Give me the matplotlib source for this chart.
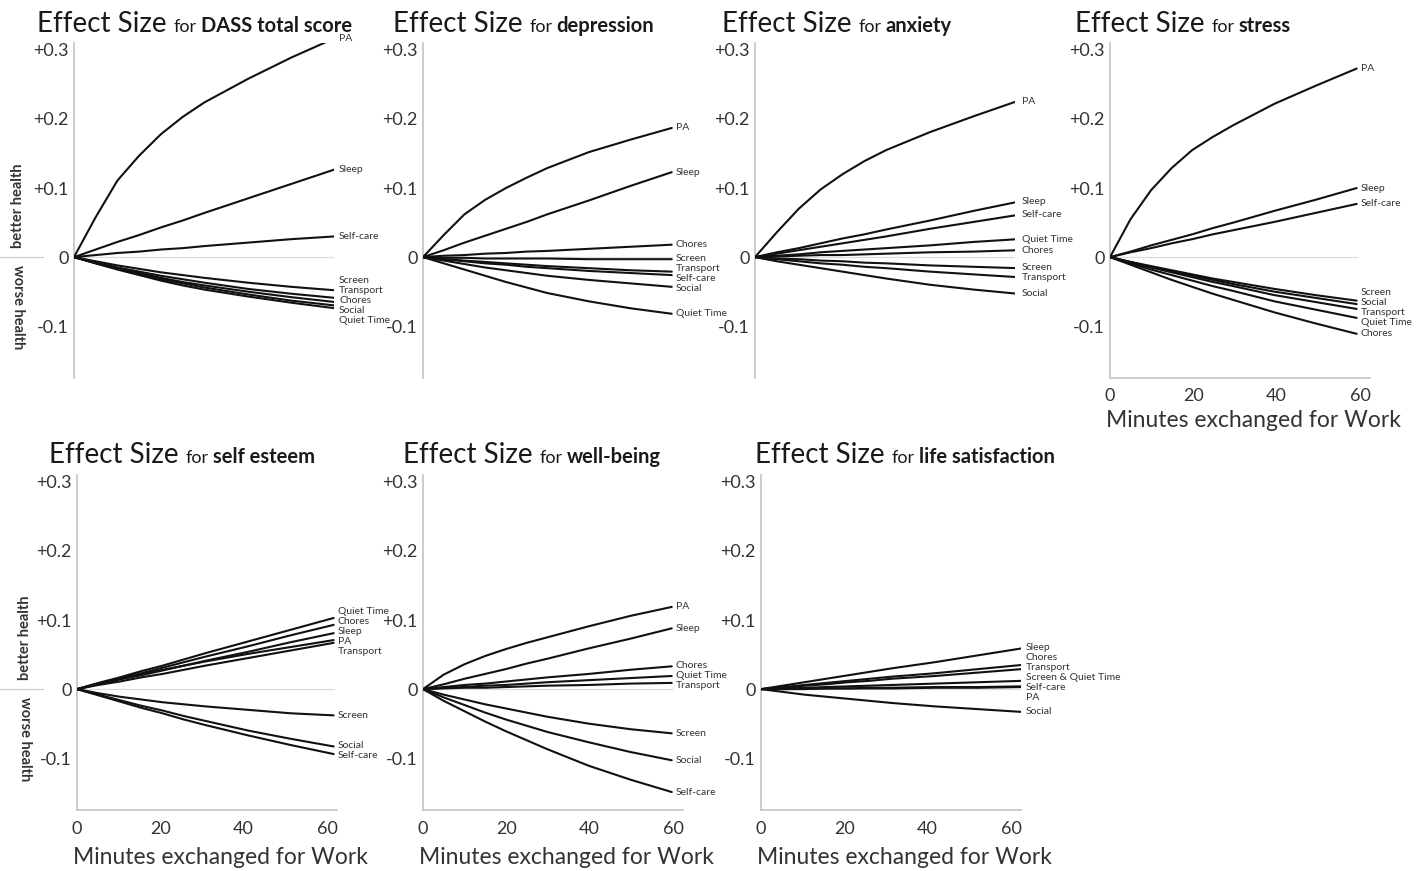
import numpy as np
import matplotlib.pyplot as plt

plt.rcParams['font.family'] = ['Lato', 'DejaVu Sans']

minutes = [0, 5, 10, 15, 20, 25, 30, 40, 50, 60]

titles = ["DASS total score", "depression", "anxiety", "stress",
          "self esteem", "well-being", "life satisfaction"]

# where each panel's lines stop, in minutes
line_end = [62.6, 59.7, 63.0, 59.2, 61.6, 59.7, 62.6]

dass_names = ["PA", "Sleep", "Self-care", "Screen", "Transport", "Chores", "Social", "Quiet Time"]
dass_vals = [
    [0, 0.058, 0.111, 0.147, 0.178, 0.203, 0.224, 0.258, 0.289, 0.317],
    [0, 0.011, 0.022, 0.032, 0.043, 0.053, 0.064, 0.085, 0.106, 0.127],
    [0, 0.003, 0.006, 0.008, 0.011, 0.013, 0.016, 0.021, 0.026, 0.030],
    [0, -0.006, -0.012, -0.017, -0.022, -0.026, -0.030, -0.037, -0.043, -0.048],
    [0, -0.008, -0.015, -0.021, -0.027, -0.032, -0.037, -0.046, -0.053, -0.059],
    [0, -0.008, -0.016, -0.023, -0.030, -0.036, -0.041, -0.050, -0.058, -0.065],
    [0, -0.009, -0.017, -0.025, -0.032, -0.038, -0.044, -0.054, -0.063, -0.070],
    [0, -0.009, -0.018, -0.026, -0.034, -0.041, -0.047, -0.057, -0.066, -0.074],
]

dep_names = ["PA", "Sleep", "Chores", "Screen", "Transport", "Self-care", "Social", "Quiet Time"]
dep_vals = [
    [0, 0.032, 0.062, 0.083, 0.100, 0.115, 0.129, 0.152, 0.170, 0.187],
    [0, 0.010, 0.021, 0.031, 0.041, 0.051, 0.062, 0.082, 0.103, 0.123],
    [0, 0.002, 0.003, 0.005, 0.006, 0.008, 0.009, 0.012, 0.015, 0.018],
    [0, -0.001, -0.001, -0.002, -0.002, -0.002, -0.002, -0.003, -0.003, -0.003],
    [0, -0.003, -0.005, -0.007, -0.009, -0.011, -0.013, -0.016, -0.019, -0.021],
    [0, -0.003, -0.006, -0.009, -0.011, -0.014, -0.016, -0.020, -0.023, -0.026],
    [0, -0.005, -0.010, -0.015, -0.019, -0.023, -0.027, -0.033, -0.038, -0.043],
    [0, -0.009, -0.018, -0.027, -0.036, -0.044, -0.052, -0.064, -0.074, -0.082],
]

anx_names = ["PA", "Sleep", "Self-care", "Quiet Time", "Chores", "Screen", "Transport", "Social"]
anx_vals = [
    [0, 0.036, 0.070, 0.098, 0.120, 0.139, 0.155, 0.181, 0.204, 0.226],
    [0, 0.007, 0.013, 0.020, 0.027, 0.033, 0.040, 0.053, 0.067, 0.080],
    [0, 0.005, 0.010, 0.015, 0.020, 0.025, 0.030, 0.041, 0.051, 0.061],
    [0, 0.002, 0.004, 0.007, 0.009, 0.011, 0.013, 0.017, 0.022, 0.026],
    [0, 0.001, 0.002, 0.003, 0.003, 0.004, 0.005, 0.007, 0.008, 0.010],
    [0, -0.002, -0.003, -0.005, -0.006, -0.008, -0.009, -0.012, -0.014, -0.016],
    [0, -0.003, -0.006, -0.009, -0.011, -0.014, -0.016, -0.021, -0.025, -0.029],
    [0, -0.006, -0.011, -0.016, -0.021, -0.026, -0.031, -0.040, -0.047, -0.053],
]

str_names = ["PA", "Sleep", "Self-care", "Screen", "Social", "Transport", "Quiet Time", "Chores"]
str_vals = [
    [0, 0.055, 0.097, 0.129, 0.155, 0.174, 0.191, 0.222, 0.248, 0.273],
    [0, 0.008, 0.017, 0.025, 0.033, 0.042, 0.050, 0.067, 0.083, 0.100],
    [0, 0.007, 0.013, 0.020, 0.026, 0.033, 0.039, 0.051, 0.064, 0.077],
    [0, -0.007, -0.013, -0.019, -0.025, -0.031, -0.036, -0.046, -0.055, -0.063],
    [0, -0.007, -0.014, -0.021, -0.027, -0.033, -0.039, -0.050, -0.059, -0.068],
    [0, -0.008, -0.015, -0.022, -0.029, -0.036, -0.042, -0.055, -0.065, -0.075],
    [0, -0.009, -0.018, -0.026, -0.034, -0.042, -0.049, -0.064, -0.076, -0.088],
    [0, -0.011, -0.022, -0.033, -0.043, -0.053, -0.062, -0.080, -0.096, -0.111],
]

est_names = ["Quiet Time", "Chores", "Sleep", "PA", "Transport", "Screen", "Social", "Self-care"]
est_vals = [
    [0, 0.009, 0.017, 0.026, 0.034, 0.043, 0.052, 0.069, 0.086, 0.103],
    [0, 0.008, 0.016, 0.023, 0.031, 0.039, 0.047, 0.062, 0.078, 0.093],
    [0, 0.007, 0.014, 0.020, 0.027, 0.034, 0.041, 0.054, 0.068, 0.081],
    [0, 0.008, 0.015, 0.022, 0.028, 0.034, 0.040, 0.051, 0.061, 0.071],
    [0, 0.006, 0.011, 0.017, 0.022, 0.028, 0.034, 0.045, 0.056, 0.067],
    [0, -0.006, -0.011, -0.015, -0.019, -0.022, -0.025, -0.030, -0.035, -0.038],
    [0, -0.008, -0.016, -0.024, -0.031, -0.039, -0.046, -0.060, -0.072, -0.083],
    [0, -0.009, -0.018, -0.027, -0.035, -0.044, -0.052, -0.067, -0.081, -0.094],
]

wb_names = ["PA", "Sleep", "Chores", "Quiet Time", "Transport", "Screen", "Social", "Self-care"]
wb_vals = [
    [0, 0.021, 0.036, 0.048, 0.058, 0.067, 0.075, 0.091, 0.106, 0.119],
    [0, 0.007, 0.015, 0.022, 0.029, 0.037, 0.044, 0.059, 0.073, 0.088],
    [0, 0.003, 0.006, 0.008, 0.011, 0.014, 0.017, 0.022, 0.028, 0.033],
    [0, 0.002, 0.003, 0.005, 0.006, 0.008, 0.010, 0.013, 0.016, 0.019],
    [0, 0.001, 0.002, 0.002, 0.003, 0.004, 0.005, 0.006, 0.008, 0.009],
    [0, -0.008, -0.015, -0.022, -0.028, -0.034, -0.040, -0.050, -0.058, -0.064],
    [0, -0.012, -0.023, -0.034, -0.044, -0.053, -0.062, -0.077, -0.091, -0.103],
    [0, -0.017, -0.032, -0.047, -0.061, -0.074, -0.087, -0.111, -0.131, -0.149],
]

ls_names = ["Sleep", "Chores", "Transport", "Screen & Quiet Time", "Self-care", "PA", "Social"]
ls_vals = [
    [0, 0.005, 0.010, 0.015, 0.020, 0.025, 0.030, 0.039, 0.049, 0.059],
    [0, 0.003, 0.006, 0.009, 0.012, 0.015, 0.018, 0.023, 0.029, 0.035],
    [0, 0.002, 0.005, 0.007, 0.010, 0.012, 0.015, 0.019, 0.024, 0.029],
    [0, 0.001, 0.002, 0.003, 0.004, 0.005, 0.006, 0.008, 0.010, 0.012],
    [0, 0.000, 0.001, 0.001, 0.001, 0.002, 0.002, 0.003, 0.003, 0.004],
    [0, 0.000, 0.000, 0.001, 0.001, 0.001, 0.001, 0.002, 0.002, 0.003],
    [0, -0.004, -0.008, -0.011, -0.014, -0.017, -0.020, -0.025, -0.029, -0.033],
]

panels = [(dass_names, dass_vals), (dep_names, dep_vals), (anx_names, anx_vals),
          (str_names, str_vals), (est_names, est_vals), (wb_names, wb_vals),
          (ls_names, ls_vals)]

yticks = [-0.1, 0, 0.1, 0.2, 0.3]
ytick_labels = ["-0.1", "0", "+0.1", "+0.2", "+0.3"]
xticks = [0, 20, 40, 60]

# layout, in pixels
W, H = 1423, 871
ax_left = [74, 423, 755, 1110, 77, 423, 761]
ax_bottom = [378, 378, 378, 378, 810, 810, 810, 810]
ax_w, ax_h = 260, 335
title_pos = [(37, 32), (393, 32), (722, 32), (1075, 32), (49, 463), (403, 463), (755, 463)]
has_xaxis = [False, False, False, True, True, True, True]
health_px = {0: 18, 4: 25}

INK = '#1a1a1a'
GREY = '#333333'


def spread(vals, gap):
    # push label positions apart so they don't overlap
    order = np.argsort(vals)[::-1]
    pos = np.array(vals, float)[order]
    for _ in range(300):
        moved = False
        for i in range(1, len(pos)):
            d = pos[i - 1] - pos[i]
            if d < gap - 1e-9:
                s = (gap - d) / 2
                pos[i - 1] += s
                pos[i] -= s
                moved = True
        if not moved:
            break
    out = np.empty_like(pos)
    out[order] = pos
    return out


fig = plt.figure(figsize=(W / 100, H / 100), dpi=100)
fig.patch.set_facecolor('white')
renderer = fig.canvas.get_renderer()

for i, (names, vals) in enumerate(panels):
    ax = fig.add_axes([ax_left[i] / W, 1 - ax_bottom[i] / H, ax_w / W, ax_h / H])
    ax.set_xlim(0, 62.4)
    ax.set_ylim(-0.175, 0.31)
    ax.set_facecolor('none')

    end = line_end[i]
    x = np.array(minutes) / 60 * end
    ax.plot([0, end], [0, 0], color='#dcdcdc', lw=0.9, zorder=1)
    for v in vals:
        ax.plot(x, v, color='#111111', lw=1.5, zorder=3,
                solid_capstyle='round', solid_joinstyle='round')

    ends = [v[-1] for v in vals]
    lab_y = spread(ends, 0.0145)
    for name, yy in zip(names, lab_y):
        ax.annotate(name, xy=(end, yy), xytext=(3, 0), textcoords='offset points',
                    va='center', ha='left', fontsize=7.5, color=GREY,
                    annotation_clip=False)

    for s in ['top', 'right']:
        ax.spines[s].set_visible(False)
    ax.spines['left'].set_color('#c4c4c4')
    ax.spines['left'].set_linewidth(1.2)
    ax.set_yticks(yticks)
    ax.set_yticklabels(ytick_labels)
    ax.tick_params(axis='y', length=0, pad=4, labelsize=13, labelcolor=GREY)

    if has_xaxis[i]:
        ax.spines['bottom'].set_color('#c4c4c4')
        ax.spines['bottom'].set_linewidth(1.2)
        ax.set_xticks(xticks)
        ax.tick_params(axis='x', length=0, pad=7 if i == 3 else 8,
                       labelsize=13, labelcolor=GREY)
        ax.set_xlabel('Minutes exchanged for Work', fontsize=16.5, color=GREY)
        ax.xaxis.set_label_coords(0.55, -0.095 if i == 3 else -0.11)
    else:
        ax.spines['bottom'].set_visible(False)
        ax.set_xticks([])

    if i in health_px:
        hx = (health_px[i] - ax_left[i]) / ax_w
        tr = ax.get_yaxis_transform()
        ax.plot([(0 - ax_left[i]) / ax_w, (43 - ax_left[i]) / ax_w], [0, 0],
                transform=tr, color='#cccccc', lw=0.9, clip_on=False)
        ax.text(hx, 0.075, 'better health', transform=tr, rotation=90,
                ha='center', va='center', fontsize=10.5, fontweight='bold', color=GREY)
        ax.text(hx, -0.072, 'worse health', transform=tr, rotation=270,
                ha='center', va='center', fontsize=10.5, fontweight='bold', color=GREY)

    # title: "Effect Size" + "for" + bold outcome name
    tx, ty = title_pos[i]
    xf, yf = tx / W, 1 - ty / H
    for text, size, weight, gap in [("Effect Size", 20, 'normal', 7),
                                    ("for", 13, 'normal', 4),
                                    (titles[i], 14.5, 'bold', 0)]:
        t = fig.text(xf, yf, text, fontsize=size, fontweight=weight,
                     va='baseline', ha='left', color=INK)
        xf += (t.get_window_extent(renderer).width + gap) / W

fig.savefig('out.png', dpi=100, facecolor='white')
